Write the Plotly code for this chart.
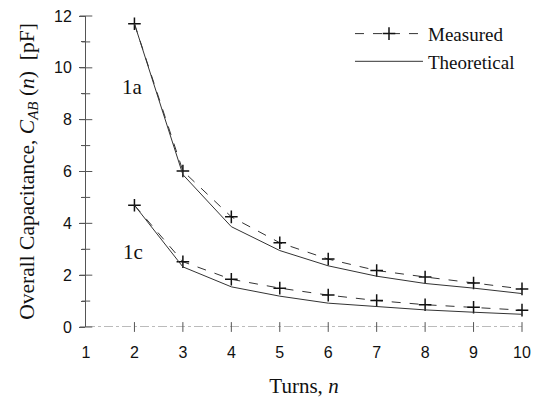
import plotly.graph_objects as go

turns = [2, 3, 4, 5, 6, 7, 8, 9, 10]
measured_1a = [11.7, 6.02, 4.25, 3.25, 2.62, 2.18, 1.93, 1.70, 1.47]
theory_1a = [11.7, 5.88, 3.87, 2.95, 2.36, 1.96, 1.68, 1.50, 1.29]
measured_1c = [4.7, 2.52, 1.84, 1.50, 1.23, 1.02, 0.86, 0.76, 0.65]
theory_1c = [4.7, 2.32, 1.55, 1.19, 0.92, 0.78, 0.66, 0.57, 0.49]
x_ticks = [1, 2, 3, 4, 5, 6, 7, 8, 9, 10]
y_ticks = [0, 2, 4, 6, 8, 10, 12]
y_minor = [1, 3, 5, 7, 9, 11]

LINE = "#333333"
AX = "#555555"

fig = go.Figure()

fig.add_trace(go.Scatter(x=[x_ticks[0], x_ticks[-1]], y=[0, 0], mode="lines",
                         line=dict(color="#777777", width=1, dash="dashdot"),
                         showlegend=False, hoverinfo="skip", cliponaxis=False))
fig.add_trace(go.Scatter(x=x_ticks[1:], y=[0] * len(x_ticks[1:]), mode="markers",
                         marker=dict(symbol="line-ns", size=7, line=dict(color=AX, width=1)),
                         showlegend=False, hoverinfo="skip", cliponaxis=False))
fig.add_trace(go.Scatter(x=[1] * len(y_ticks), y=y_ticks, mode="markers",
                         marker=dict(symbol="line-ew", size=9, line=dict(color=AX, width=1)),
                         showlegend=False, hoverinfo="skip", cliponaxis=False))
fig.add_trace(go.Scatter(x=[1] * len(y_minor), y=y_minor, mode="markers",
                         marker=dict(symbol="line-ew", size=6, line=dict(color=AX, width=1)),
                         showlegend=False, hoverinfo="skip", cliponaxis=False))

meas_style = dict(mode="lines+markers",
                  line=dict(color=LINE, width=1, dash="dash"),
                  marker=dict(symbol="cross-thin", size=9, line=dict(color="#111111", width=1.5)))
theo_style = dict(mode="lines", line=dict(color=LINE, width=1))

fig.add_trace(go.Scatter(x=turns, y=measured_1a, name="Measured", showlegend=True,
                         cliponaxis=False, **meas_style))
fig.add_trace(go.Scatter(x=turns, y=measured_1c, name="Measured", showlegend=False,
                         cliponaxis=False, **meas_style))
fig.add_trace(go.Scatter(x=turns, y=theory_1a, name="Theoretical", showlegend=True,
                         cliponaxis=False, **theo_style))
fig.add_trace(go.Scatter(x=turns, y=theory_1c, name="Theoretical", showlegend=False,
                         cliponaxis=False, **theo_style))

fig.add_annotation(x=1.97, y=9.25, text="1a", showarrow=False,
                   font=dict(family="Liberation Serif", size=21, color="#111"))
fig.add_annotation(x=1.97, y=2.9, text="1c", showarrow=False,
                   font=dict(family="Liberation Serif", size=21, color="#111"))

fig.update_layout(
    width=536, height=405,
    margin=dict(l=86, r=14, t=16, b=78, autoexpand=False),
    paper_bgcolor="white", plot_bgcolor="white",
    showlegend=True,
    legend=dict(x=0.6055, y=1.004, xanchor="left", yanchor="top",
                itemwidth=68, bgcolor="rgba(0,0,0,0)",
                font=dict(family="Liberation Serif", size=19, color="#111")),
    xaxis=dict(range=[1, 10], tickvals=x_ticks, showgrid=False, zeroline=False,
               showline=False, ticks="outside", ticklen=11, tickcolor="rgba(0,0,0,0)",
               automargin=False,
               tickfont=dict(family="Liberation Sans", size=16, color="#111"),
               title=dict(text="Turns, <i>n</i>", standoff=18,
                          font=dict(family="Liberation Serif", size=21, color="#111"))),
    yaxis=dict(range=[0, 12], tickvals=y_ticks, showgrid=False, zeroline=False,
               showline=True, linecolor=AX, linewidth=1,
               ticks="outside", ticklen=6, tickcolor=AX, automargin=False,
               minor=dict(tickvals=y_minor, ticks="outside", ticklen=4, tickcolor=AX),
               ticklabelstandoff=4,
               tickfont=dict(family="Liberation Sans", size=16, color="#111"),
               title=dict(text="Overall Capacitance, <i>C</i><sub><i>AB</i></sub>&nbsp;(<i>n</i>)&nbsp;&nbsp;[pF]",
                          standoff=13,
                          font=dict(family="Liberation Serif", size=21.5, color="#111"))),
)

fig.write_html("out.html", config={"displayModeBar": False},
               post_script="document.body.style.margin='0';document.body.style.overflow='hidden';")
